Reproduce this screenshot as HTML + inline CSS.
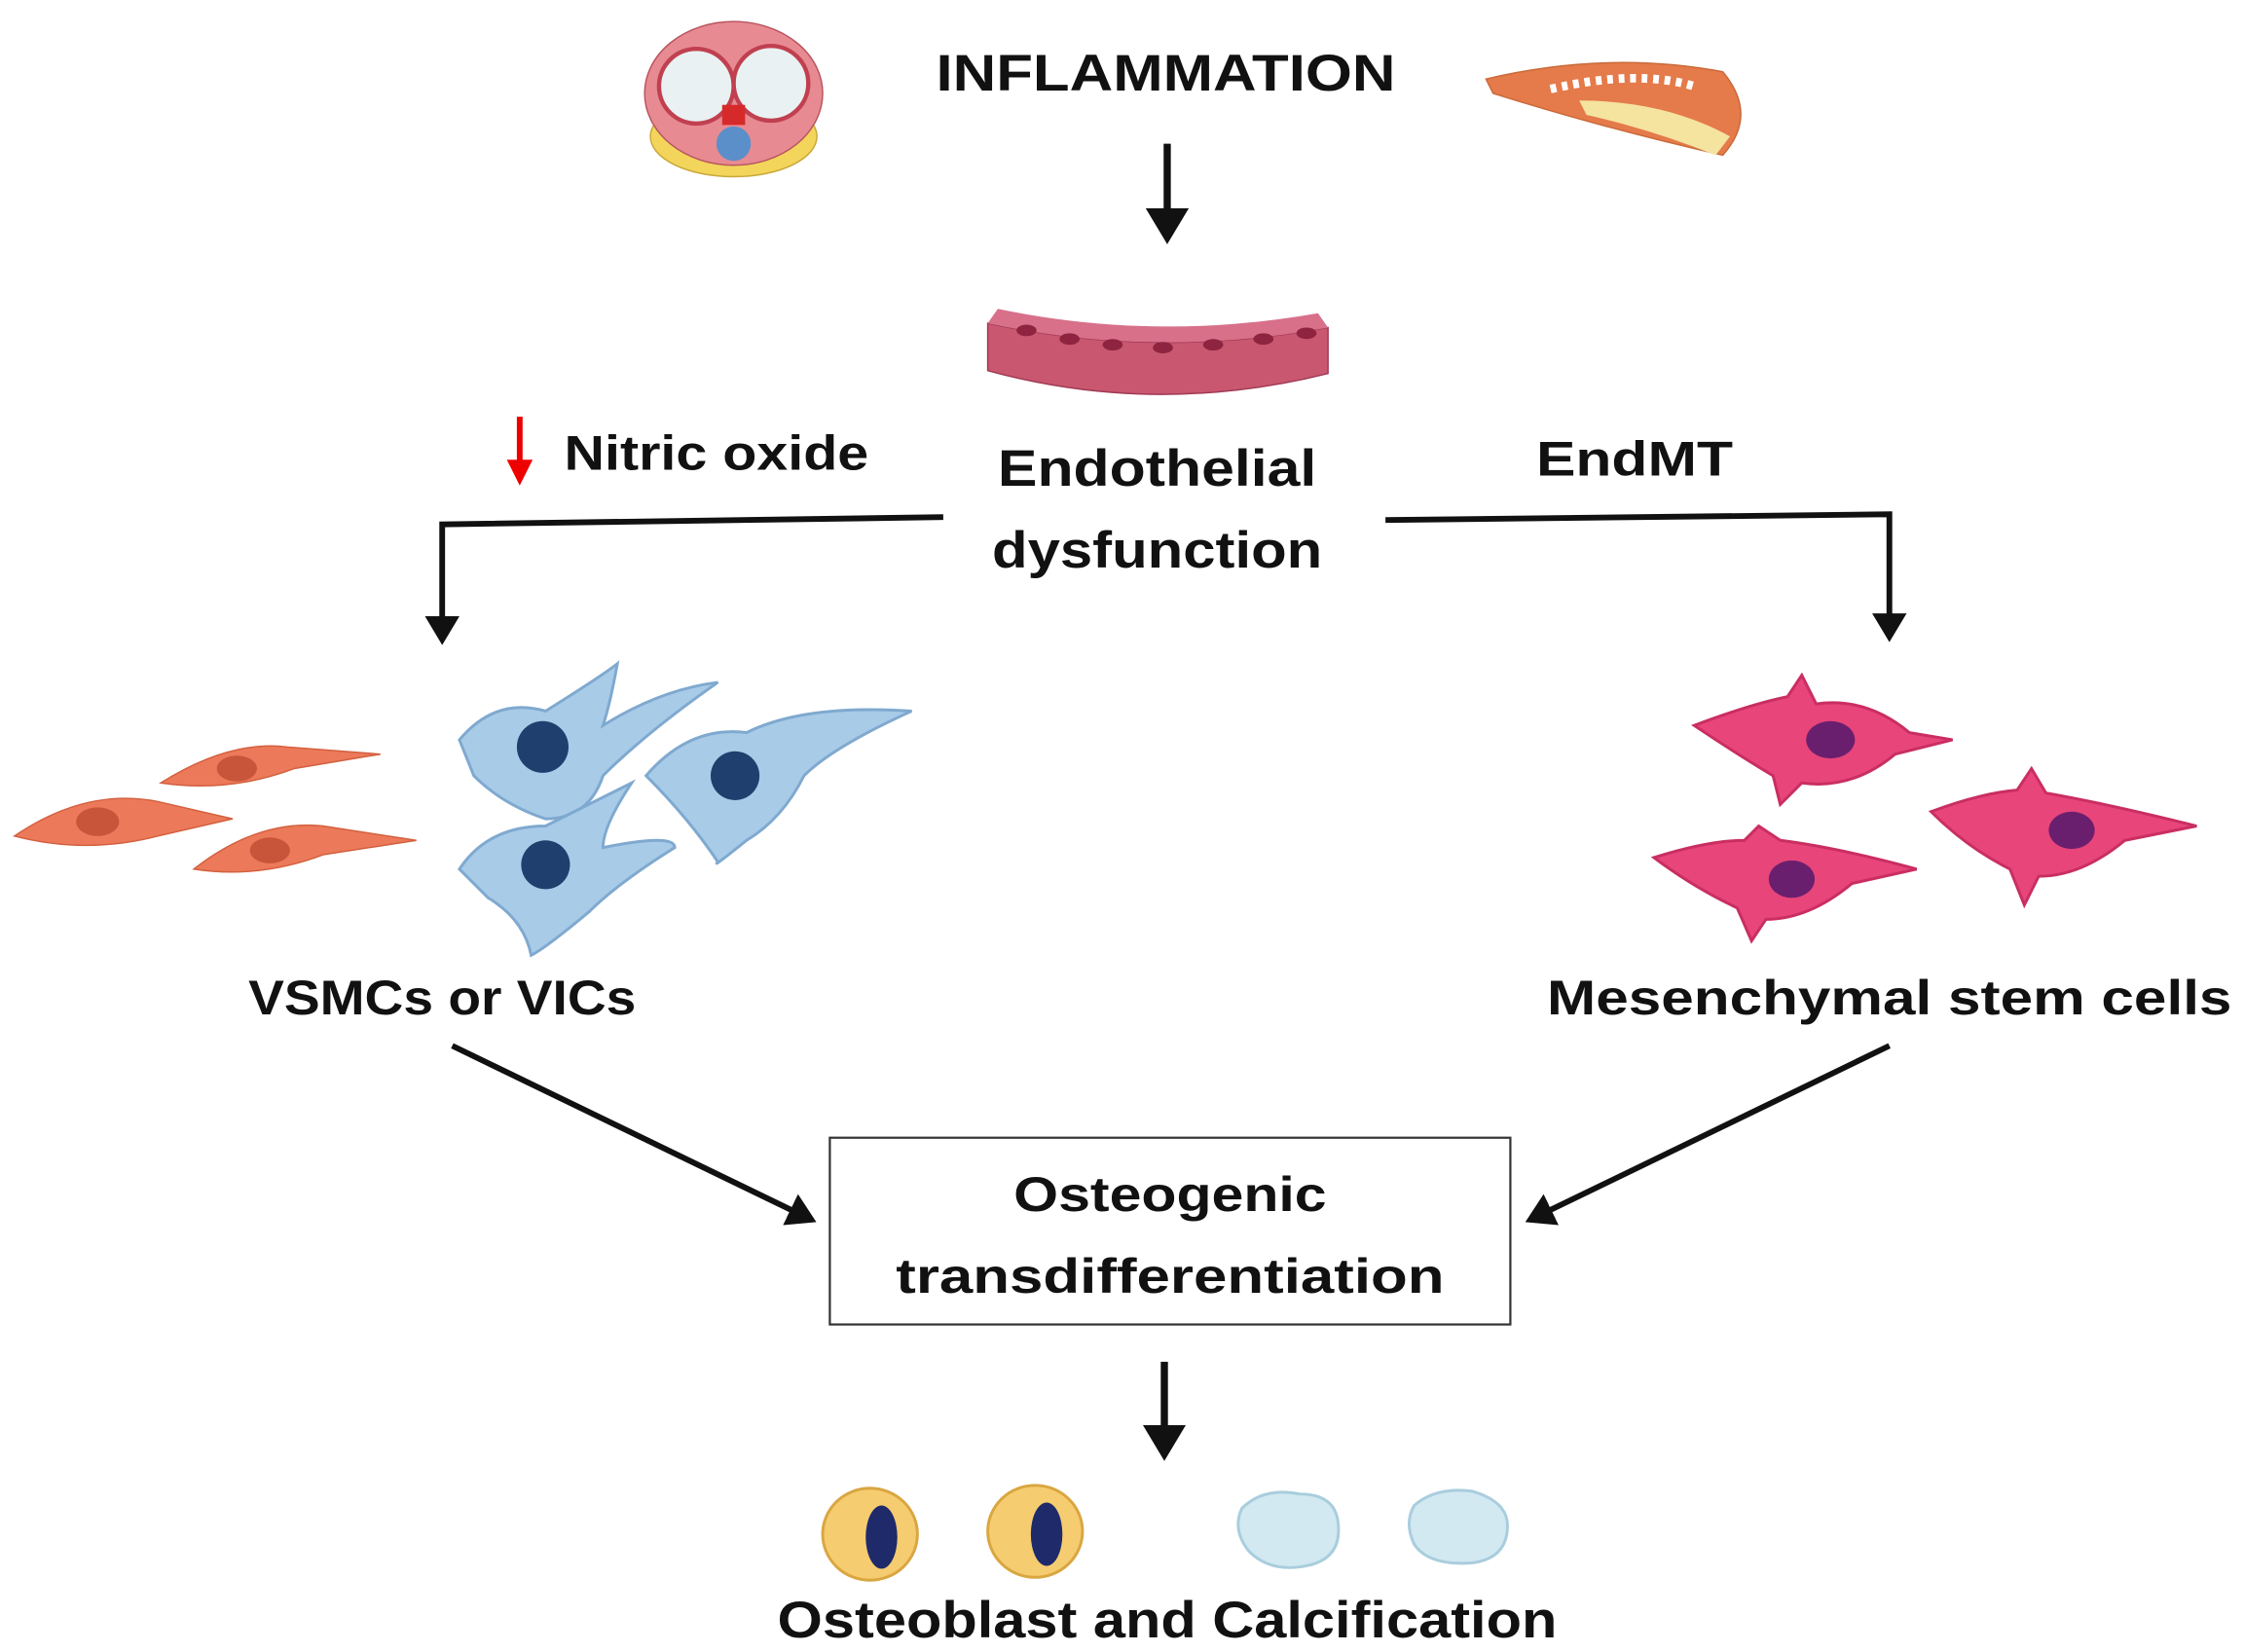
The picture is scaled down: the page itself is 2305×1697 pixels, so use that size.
<!DOCTYPE html>
<html><head><meta charset="utf-8"><style>
html,body{margin:0;padding:0;background:#fff;}
svg{display:block;}
text{font-family:"Liberation Sans",sans-serif;font-weight:bold;fill:#111;}
</style></head><body>
<svg width="2305" height="1697" viewBox="0 0 1563 1150" preserveAspectRatio="none" xmlns="http://www.w3.org/2000/svg">
<defs>
<marker id="ah" markerWidth="6" markerHeight="6" refX="4" refY="3" orient="auto" markerUnits="strokeWidth"><path d="M0,0 L5,3 L0,6 z" fill="#111"/></marker>
</defs>
<!-- heart icon -->
<g>
<ellipse cx="511" cy="95" rx="58" ry="28" fill="#f2d55a" stroke="#c9a83a"/>
<ellipse cx="511" cy="65" rx="62" ry="50" fill="#e88a92" stroke="#b85560"/>
<circle cx="485" cy="60" r="26" fill="#e9f1f2" stroke="#c04050" stroke-width="3"/>
<circle cx="537" cy="58" r="26" fill="#e9f1f2" stroke="#c04050" stroke-width="3"/>
<circle cx="511" cy="100" r="12" fill="#5b8fc9"/>
<rect x="503" y="73" width="16" height="14" fill="#d62a2a"/>
</g>
<!-- artery icon -->
<g>
<path d="M1035,55 Q1120,35 1200,50 Q1225,80 1200,108 Q1120,90 1040,65 Z" fill="#e57a4a" stroke="#c96a3a"/>
<path d="M1100,70 Q1160,70 1205,95 L1195,108 Q1150,90 1105,80 Z" fill="#f5e3a0"/>
<path d="M1080,62 Q1140,48 1180,60" stroke="#fff" stroke-width="6" fill="none" stroke-dasharray="4 4"/>
</g>
<text x="812" y="63" text-anchor="middle" font-size="36" textLength="320" lengthAdjust="spacingAndGlyphs">INFLAMMATION</text>
<line x1="813" y1="100" x2="813" y2="165" stroke="#111" stroke-width="5" marker-end="url(#ah)"/>
<!-- endothelium tissue -->
<path d="M688,225 Q805,250 925,228 L925,260 Q805,290 688,258 Z" fill="#c95770" stroke="#a03a55"/>
<path d="M688,225 Q805,250 925,228 L918,218 Q805,238 695,215 Z" fill="#d8708a"/>
<g fill="#8e2440">
<ellipse cx="715" cy="230" rx="7" ry="4"/><ellipse cx="745" cy="236" rx="7" ry="4"/><ellipse cx="775" cy="240" rx="7" ry="4"/><ellipse cx="810" cy="242" rx="7" ry="4"/><ellipse cx="845" cy="240" rx="7" ry="4"/><ellipse cx="880" cy="236" rx="7" ry="4"/><ellipse cx="910" cy="232" rx="7" ry="4"/>
</g>
<!-- Nitric oxide -->
<line x1="362" y1="290" x2="362" y2="325" stroke="#e00" stroke-width="4"/>
<path d="M353,320 L362,338 L371,320 Z" fill="#e00"/>
<text x="393" y="327" font-size="34" textLength="212" lengthAdjust="spacingAndGlyphs">Nitric oxide</text>
<text x="806" y="338" text-anchor="middle" font-size="36" textLength="222" lengthAdjust="spacingAndGlyphs">Endothelial</text>
<text x="806" y="395" text-anchor="middle" font-size="36" textLength="230" lengthAdjust="spacingAndGlyphs">dysfunction</text>
<text x="1070" y="331" font-size="34" textLength="137" lengthAdjust="spacingAndGlyphs">EndMT</text>
<polyline points="657,360 308,365 308,445" fill="none" stroke="#111" stroke-width="4" marker-end="url(#ah)"/>
<polyline points="965,362 1316,358 1316,443" fill="none" stroke="#111" stroke-width="4" marker-end="url(#ah)"/>
<!-- VSMCs orange -->
<g fill="#ec7a5a" stroke="#d2603f">
<path d="M112,545 Q160,515 200,520 L265,525 L205,535 Q160,552 112,545 Z"/>
<path d="M10,582 Q60,548 110,558 L162,570 L110,582 Q60,595 10,582 Z"/>
<path d="M135,605 Q180,570 225,575 L290,585 L225,595 Q180,612 135,605 Z"/>
</g>
<g fill="#c8553a"><ellipse cx="165" cy="535" rx="14" ry="9"/><ellipse cx="68" cy="572" rx="15" ry="10"/><ellipse cx="188" cy="592" rx="14" ry="9"/></g>
<!-- VICs blue -->
<g fill="#a8cbe8" stroke="#7fa9cf" stroke-width="2">
<path d="M320,515 Q345,485 380,495 Q420,470 430,462 Q425,490 420,505 Q460,480 500,475 Q450,510 420,540 Q410,570 380,570 Q350,560 330,540 Z"/>
<path d="M450,540 Q480,505 520,510 Q560,490 635,495 Q580,520 560,540 Q545,570 520,585 Q495,605 500,600 Q480,570 450,540 Z"/>
<path d="M320,605 Q340,575 380,575 Q410,560 440,545 Q420,575 420,590 Q470,580 470,590 Q430,615 410,635 Q380,660 370,665 Q365,640 340,625 Z"/>
</g>
<g fill="#1f3f6e"><ellipse cx="378" cy="520" rx="18" ry="18"/><ellipse cx="512" cy="540" rx="17" ry="17"/><ellipse cx="380" cy="602" rx="17" ry="17"/></g>
<text x="308" y="706" text-anchor="middle" font-size="34" textLength="270" lengthAdjust="spacingAndGlyphs">VSMCs or VICs</text>
<!-- MSCs pink -->
<g fill="#e8457a" stroke="#c92e62" stroke-width="2">
<path d="M1180,505 Q1220,490 1245,485 L1255,470 L1265,490 Q1300,485 1330,510 L1360,515 L1320,525 Q1290,550 1255,545 L1240,560 L1235,540 Q1210,525 1180,505 Z"/>
<path d="M1345,565 Q1380,552 1405,550 L1415,535 L1425,552 Q1470,560 1530,575 L1480,585 Q1450,610 1420,610 L1410,630 L1400,605 Q1370,590 1345,565 Z"/>
<path d="M1152,597 Q1190,585 1215,585 L1225,575 L1240,585 Q1280,590 1335,605 L1290,615 Q1260,640 1230,640 L1220,655 L1210,632 Q1180,618 1152,597 Z"/>
</g>
<g fill="#6a1f6e"><ellipse cx="1275" cy="515" rx="17" ry="13"/><ellipse cx="1443" cy="578" rx="16" ry="13"/><ellipse cx="1248" cy="612" rx="16" ry="13"/></g>
<text x="1316" y="706" text-anchor="middle" font-size="34" textLength="477" lengthAdjust="spacingAndGlyphs">Mesenchymal stem cells</text>
<!-- diagonal arrows -->
<line x1="315" y1="728" x2="565" y2="849" stroke="#111" stroke-width="4" marker-end="url(#ah)"/>
<line x1="1316" y1="728" x2="1066" y2="849" stroke="#111" stroke-width="4" marker-end="url(#ah)"/>
<rect x="578" y="792" width="474" height="130" fill="#fff" stroke="#333" stroke-width="1.5"/>
<text x="815" y="843" text-anchor="middle" font-size="34" textLength="218" lengthAdjust="spacingAndGlyphs">Osteogenic</text>
<text x="815" y="900" text-anchor="middle" font-size="34" textLength="382" lengthAdjust="spacingAndGlyphs">transdifferentiation</text>
<line x1="811" y1="948" x2="811" y2="1012" stroke="#111" stroke-width="5" marker-end="url(#ah)"/>
<!-- osteoblasts -->
<g fill="#f5cc70" stroke="#d9a640" stroke-width="2">
<ellipse cx="606" cy="1068" rx="33" ry="32"/><ellipse cx="721" cy="1066" rx="33" ry="32"/>
</g>
<g fill="#1e2a6a"><ellipse cx="614" cy="1070" rx="11" ry="22"/><ellipse cx="729" cy="1068" rx="11" ry="22"/></g>
<g fill="#d2e9f2" stroke="#a9cddd" stroke-width="2">
<path d="M865,1050 Q880,1035 905,1040 Q930,1040 932,1060 Q935,1085 910,1090 Q885,1095 870,1080 Q858,1065 865,1050 Z"/>
<path d="M985,1048 Q1000,1035 1025,1038 Q1050,1045 1050,1062 Q1050,1085 1025,1088 Q995,1090 985,1075 Q978,1060 985,1048 Z"/>
</g>
<text x="813" y="1140" text-anchor="middle" font-size="36" textLength="543" lengthAdjust="spacingAndGlyphs">Osteoblast and Calcification</text>
</svg>
</body></html>
